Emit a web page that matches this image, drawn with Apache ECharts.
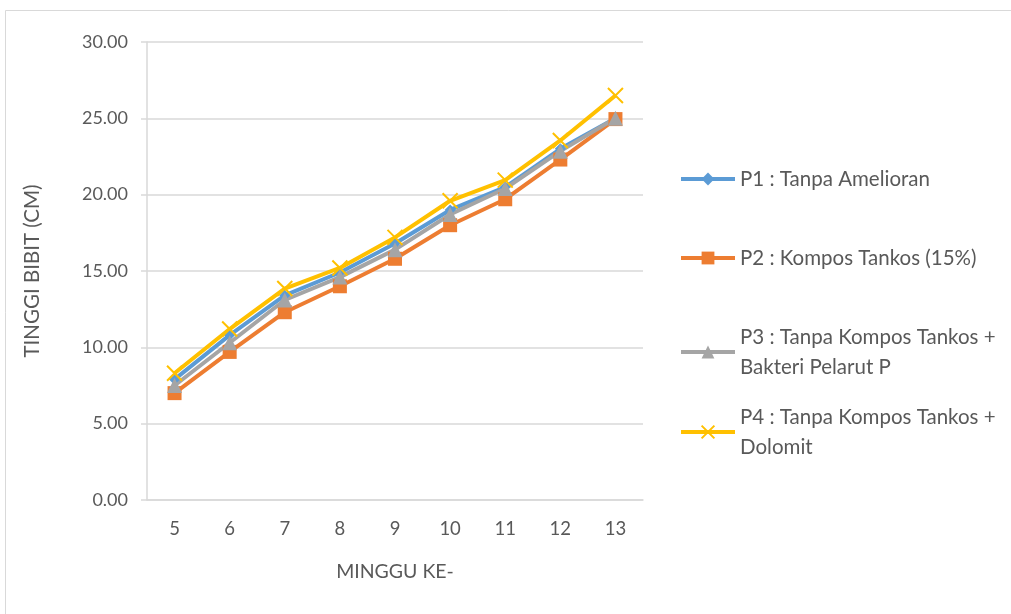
<!DOCTYPE html>
<html>
<head>
<meta charset="utf-8">
<script src="https://cdn.jsdelivr.net/npm/echarts@6/dist/echarts.min.js"></script>
<style>html,body{margin:0;padding:0;background:#fff}#c{width:1011px;height:614px}</style>
</head>
<body>
<div id="c"></div>
<script>
const weeks = ['5','6','7','8','9','10','11','12','13'];
const p1 = [7.9, 10.8, 13.4, 14.9, 16.8, 19.0, 20.5, 23.0, 25.0];
const p2 = [7.0, 9.7, 12.3, 14.0, 15.8, 18.0, 19.7, 22.3, 24.95];
const p3 = [7.5, 10.3, 13.1, 14.6, 16.4, 18.7, 20.4, 22.85, 25.0];
const p4 = [8.3, 11.2, 13.85, 15.2, 17.2, 19.6, 20.95, 23.55, 26.5];
const names = ['P1 : Tanpa Amelioran', 'P2 : Kompos Tankos (15%)', 'P3 : Tanpa Kompos Tankos + Bakteri Pelarut P', 'P4 : Tanpa Kompos Tankos + Dolomit'];
const yTicks = [0, 5, 10, 15, 20, 25, 30];

const FONT = 'Lato';
const TXT = '#595959';
const chart = echarts.init(document.getElementById('c'), null, {renderer: 'canvas'});
const xPath = 'path://M0,0L10,10M10,0L0,10';

function legendFor(i, top, twoLine) {
  const o = {
    data: [names[i]], orient: 'vertical', left: 674, top: top,
    itemWidth: 54, itemHeight: 16, itemGap: 0,
    lineStyle: {width: 4},
    textStyle: {fontFamily: FONT, fontSize: 20.5, color: TXT, lineHeight: 30},
    selectedMode: false
  };
  if (twoLine) {
    o.formatter = function (n) { return n.replace(' + ', ' +\n'); };
    o.textStyle.padding = [30, 0, 0, 0];
  }
  return o;
}

chart.setOption({
  animation: false,
  backgroundColor: '#fff',
  graphic: [{type: 'rect', shape: {x: 5.5, y: 10.5, width: 1100, height: 700}, style: {fill: 'none', stroke: '#d9d9d9', lineWidth: 1}}],
  legend: [legendFor(0, 159, false), legendFor(1, 238, false), legendFor(2, 302, true), legendFor(3, 382, true)],
  grid: {left: 147, right: 368, top: 42, bottom: 114},
  xAxis: {
    type: 'category', data: weeks, boundaryGap: true,
    name: 'MINGGU KE-', nameLocation: 'middle', nameGap: 62,
    nameTextStyle: {fontFamily: FONT, fontSize: 19.5, color: TXT},
    axisLine: {show: true, lineStyle: {color: '#d9d9d9', width: 1.5}},
    axisTick: {show: false},
    axisLabel: {fontFamily: FONT, fontSize: 18.5, color: TXT, margin: 20}
  },
  yAxis: {
    type: 'value', min: yTicks[0], max: yTicks[yTicks.length - 1], interval: 5,
    name: 'TINGGI BIBIT (CM)', nameLocation: 'middle', nameGap: 104, nameRotate: 90,
    nameTextStyle: {fontFamily: FONT, fontSize: 20.5, color: TXT},
    axisLine: {show: true, lineStyle: {color: '#d9d9d9', width: 1.5}},
    axisTick: {show: true, length: 6, lineStyle: {color: '#d9d9d9', width: 1.5}},
    splitLine: {lineStyle: {color: '#d9d9d9', width: 1.5}},
    axisLabel: {fontFamily: FONT, fontSize: 18, color: TXT, margin: 19, formatter: v => v.toFixed(2)}
  },
  series: [
    {name: names[0], type: 'line', data: p1, symbol: 'diamond', symbolSize: 11,
      lineStyle: {color: '#5B9BD5', width: 4}, itemStyle: {color: '#5B9BD5'}},
    {name: names[1], type: 'line', data: p2, symbol: 'rect', symbolSize: 14,
      lineStyle: {color: '#ED7D31', width: 4}, itemStyle: {color: '#ED7D31'}},
    {name: names[2], type: 'line', data: p3, symbol: 'triangle', symbolSize: 15,
      lineStyle: {color: '#A5A5A5', width: 4}, itemStyle: {color: '#A5A5A5'}},
    {name: names[3], type: 'line', data: p4, symbol: xPath, symbolSize: 15,
      lineStyle: {color: '#FFC000', width: 4}, itemStyle: {color: '#FFC000', borderColor: '#FFC000', borderWidth: 2}}
  ]
});
</script>
</body>
</html>
